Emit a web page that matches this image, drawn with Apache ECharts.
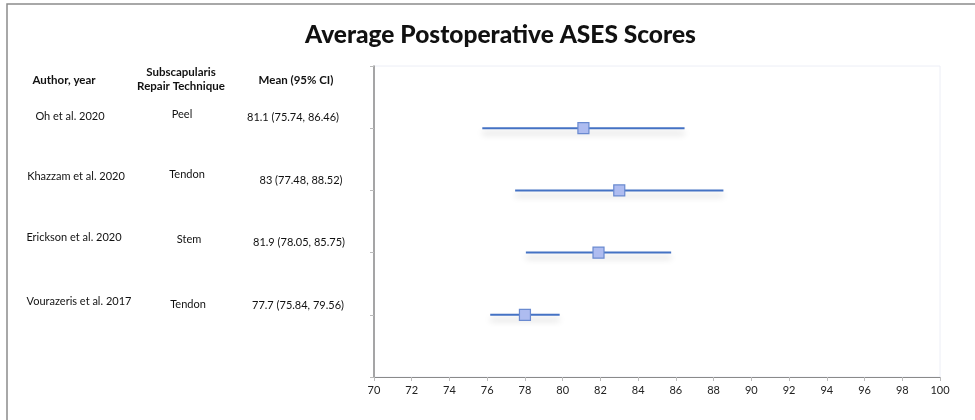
<!DOCTYPE html>
<html>
<head>
<meta charset="utf-8">
<script src="https://cdn.jsdelivr.net/npm/echarts@6/dist/echarts.min.js"></script>
<style>
html,body{margin:0;padding:0;background:#fff;}
#chart{width:975px;height:420px;}
</style>
</head>
<body>
<div id="chart"></div>
<script>
const authors = ['Oh et al. 2020', 'Khazzam et al. 2020', 'Erickson et al. 2020', 'Vourazeris et al. 2017'];
const techniques = ['Peel', 'Tendon', 'Stem', 'Tendon'];
const meanLabels = ['81.1 (75.74, 86.46)', '83 (77.48, 88.52)', '81.9 (78.05, 85.75)', '77.7 (75.84, 79.56)'];
const means = [81.1, 83, 81.9, 78.0];
const lower = [75.74, 77.48, 78.05, 76.16];
const upper = [86.46, 88.52, 85.75, 79.84];
const rowPos = [4, 3, 2, 1];
const xTicks = [70, 72, 74, 76, 78, 80, 82, 84, 86, 88, 90, 92, 94, 96, 98, 100];

const chart = echarts.init(document.getElementById('chart'));
const FONT = 'Lato, "Open Sans", sans-serif';

const bars = rowPos.map((y, i) => [lower[i], upper[i], y]);
const pts = rowPos.map((y, i) => [means[i], y]);

// left table text positions
const authorX = [70, 76, 74, 79];
const authorY = [116, 176, 237, 301];
const techX = [182, 187, 189, 188];
const techY = [114, 174, 239, 304];
const meanX = [293, 301, 299, 298];
const meanY = [117, 180, 242, 305];

const textEls = [];
textEls.push({
  type: 'rect', shape: {x: 7, y: 4, width: 1000, height: 1000},
  style: {fill: 'none', stroke: '#8c8c8c', lineWidth: 1.5}, z: -1
});
const headerEls = [
  {text: 'Author, year', x: 64, y: 80},
  {text: 'Subscapularis\nRepair Technique', x: 181, y: 79},
  {text: 'Mean (95% CI)', x: 296, y: 80}
];
headerEls.forEach(h => {
  textEls.push({
    type: 'text', x: h.x, y: h.y,
    style: {text: h.text, fill: '#111', font: 'bold 11.5px ' + FONT,
      align: 'center', verticalAlign: 'middle', lineHeight: 14}
  });
});
authors.forEach((a, i) => {
  textEls.push({type: 'text', x: authorX[i], y: authorY[i],
    style: {text: a, fill: '#111', font: '11px ' + FONT, align: 'center', verticalAlign: 'middle'}});
  textEls.push({type: 'text', x: techX[i], y: techY[i],
    style: {text: techniques[i], fill: '#111', font: '11px ' + FONT, align: 'center', verticalAlign: 'middle'}});
  textEls.push({type: 'text', x: meanX[i], y: meanY[i],
    style: {text: meanLabels[i], fill: '#111', font: '11px ' + FONT, align: 'center', verticalAlign: 'middle'}});
});

chart.setOption({
  animation: false,
  backgroundColor: '#fff',
  title: {
    text: 'Average Postoperative ASES Scores',
    left: 300, top: 18,
    textStyle: {fontFamily: FONT, fontWeight: 900, fontSize: 24.5, color: '#111'}
  },
  grid: {left: 374, right: 35, top: 66, bottom: 43, show: true, borderColor: '#eceef6', borderWidth: 1},
  xAxis: {
    type: 'value', min: 70, max: 100, interval: 2,
    axisLine: {show: true, lineStyle: {color: '#8a8a8a', width: 1}},
    axisTick: {show: true, length: 4, lineStyle: {color: '#bbb'}},
    axisLabel: {color: '#222', fontSize: 11, fontFamily: FONT, margin: 8,
      customValues: xTicks},
    splitLine: {show: false}
  },
  yAxis: {
    type: 'value', min: 0, max: 5, interval: 1,
    axisLine: {show: true, lineStyle: {color: '#8a8a8a', width: 1.5}},
    axisTick: {show: true, length: 4, lineStyle: {color: '#bbb'}},
    axisLabel: {show: false},
    splitLine: {show: false}
  },
  graphic: textEls,
  series: [
    {
      type: 'custom',
      data: bars,
      z: 2,
      renderItem: function (params, api) {
        const p1 = api.coord([api.value(0), api.value(2)]);
        const p2 = api.coord([api.value(1), api.value(2)]);
        return {
          type: 'line',
          shape: {x1: p1[0], y1: p1[1], x2: p2[0], y2: p2[1]},
          style: {stroke: '#4472c4', lineWidth: 2,
            shadowBlur: 6, shadowColor: 'rgba(0,0,0,0.22)', shadowOffsetY: 5}
        };
      }
    },
    {
      type: 'scatter',
      data: pts,
      symbol: 'rect',
      symbolSize: 11,
      z: 3,
      itemStyle: {color: '#aebcf0', borderColor: '#6a8ad0', borderWidth: 1.2, opacity: 1}
    }
  ]
});
</script>
</body>
</html>
